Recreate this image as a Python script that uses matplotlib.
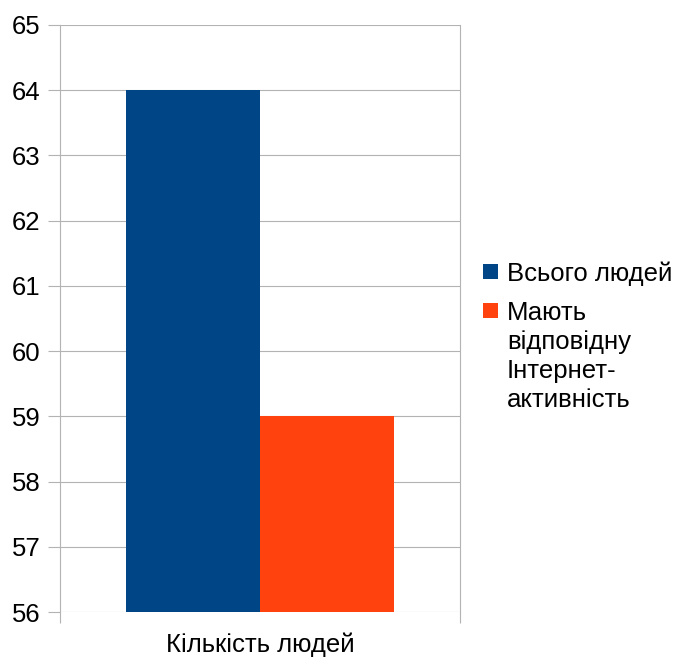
import matplotlib.pyplot as plt
from matplotlib.patches import Rectangle

plt.rcParams['font.family'] = ['Liberation Sans', 'DejaVu Sans']

category = 'Кількість людей'
series_names = ['Всього людей', 'Мають\nвідповідну\nІнтернет-\nактивність']
values = [64, 59]
colors = ['#004586', '#ff420e']
y_ticks = list(range(56, 66))

grid_c = '#b3b3b3'
fs = 18.5
W, H = 680, 659

fig = plt.figure(figsize=(W / 100, H / 100), dpi=100)
ax = fig.add_axes([60 / W, 1 - 612 / H, 400 / W, 587 / H])

# two bars side by side in a single category
width = 0.335
offsets = [-width / 2, width / 2]
for off, v, c in zip(offsets, values, colors):
    ax.bar(off, v - y_ticks[0], width=width, bottom=y_ticks[0], color=c, zorder=3)

ax.set_xlim(-0.5, 0.5)
ax.set_ylim(y_ticks[0], y_ticks[-1])
ax.set_yticks(y_ticks)
ax.yaxis.grid(True, color=grid_c, linewidth=0.8, zorder=0)
for s in ['top', 'bottom']:
    ax.spines[s].set_visible(False)
for s in ['left', 'right']:
    ax.spines[s].set_color(grid_c)
    ax.spines[s].set_linewidth(0.8)

ax.tick_params(axis='y', length=8.6, width=0.8, color=grid_c, pad=5.5,
               labelsize=fs)
ax.set_xticks([0])
ax.set_xticklabels([category])
ax.set_xticks([-0.5, 0.5], minor=True)
ax.tick_params(axis='x', which='major', length=0, pad=15, labelsize=fs)
ax.tick_params(axis='x', which='minor', length=8, width=0.8, color=grid_c)

# legend: square swatch next to the first line of each label
line_step = 29
baseline = 281
for name, c in zip(series_names, colors):
    lines = name.split('\n')
    fig.patches.append(Rectangle((483 / W, 1 - (baseline - 2) / H), 15 / W, 15 / H,
                                 transform=fig.transFigure, facecolor=c,
                                 edgecolor='none'))
    for i, ln in enumerate(lines):
        fig.text(507 / W, 1 - (baseline + i * line_step) / H, ln,
                 fontsize=fs, va='baseline', ha='left')
    baseline += len(lines) * line_step + 10

fig.savefig('out.png', dpi=100)
